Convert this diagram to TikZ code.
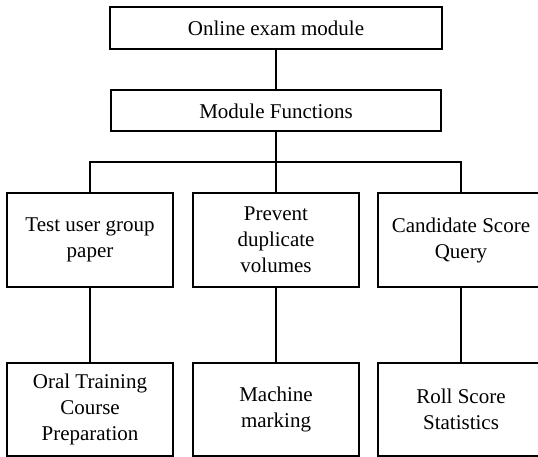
\documentclass[tikz,border=0pt]{standalone}
\usepackage{fontspec}
\setmainfont{Liberation Serif}
\usepackage{tikz}

\begin{document}
\begin{tikzpicture}[x=1pt, y=-1pt, box/.style={rectangle, draw, line width=2pt, fill=white, align=center, font=\fontsize{21}{26}\selectfont}, link/.style={line width=2pt}]
\clip (0,0) rectangle (538,457);
\node (exam) [box, minimum width=332pt, minimum height=42pt] at (276,28.5) {Online exam module};
\node (funcs) [box, minimum width=330pt, minimum height=41pt] at (276,111) {Module Functions};
\node (test) [box, minimum width=166pt, minimum height=94pt] at (90,240) {Test user group\\paper};
\node (dup) [box, minimum width=166pt, minimum height=94pt] at (276,240) {Prevent\\duplicate\\volumes};
\node (query) [box, minimum width=166pt, minimum height=94pt] at (461,240) {Candidate Score\\Query};
\node (oral) [box, minimum width=166pt, minimum height=93pt] at (90,409.5) {Oral Training\\Course\\Preparation};
\node (mark) [box, minimum width=166pt, minimum height=93pt] at (276,409.5) {Machine\\marking};
\node (roll) [box, minimum width=166pt, minimum height=93pt] at (461,409.5) {Roll Score\\Statistics};
\coordinate (bus) at (276,162);

\draw[link] (exam) -- (funcs);
\draw[link] (funcs) -- (bus);
\draw[link] (test.north) |- (bus) -| (query.north);
\draw[link] (bus) -- (dup);
\draw[link] (test) -- (oral);
\draw[link] (dup) -- (mark);
\draw[link] (query) -- (roll);
\end{tikzpicture}
\end{document}
